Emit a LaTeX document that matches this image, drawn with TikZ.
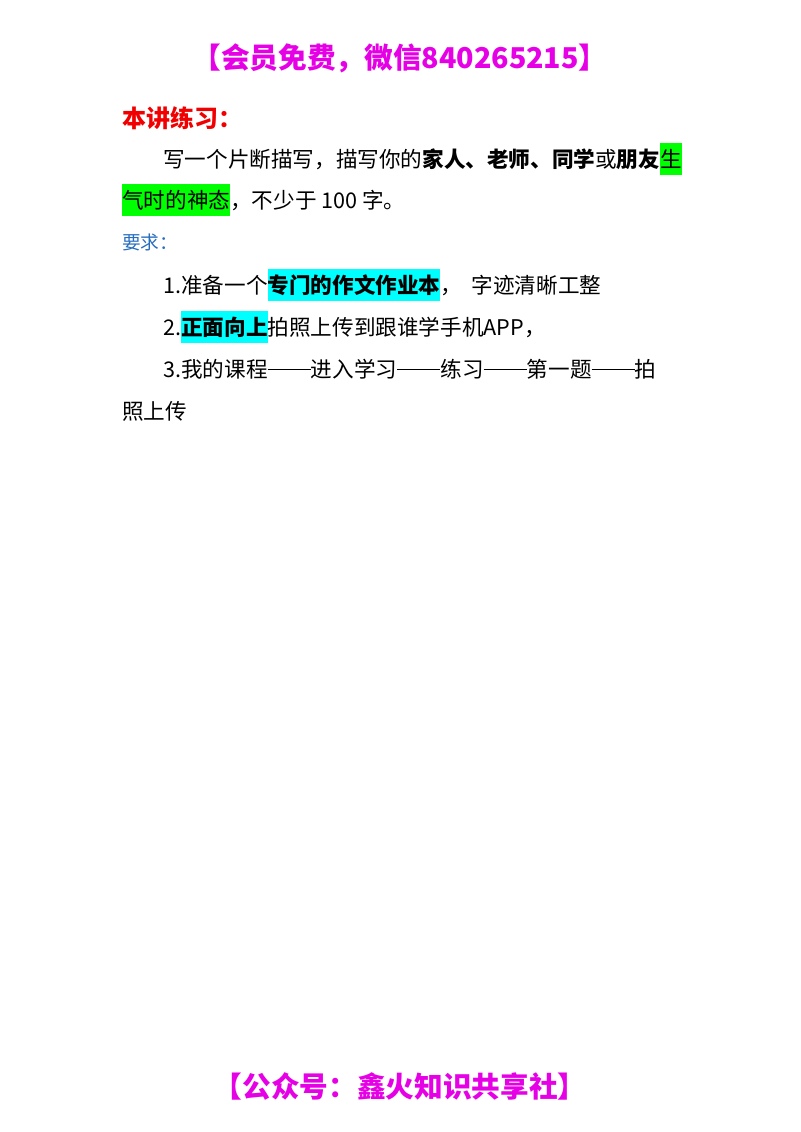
\documentclass[tikz,border=0pt]{standalone}
\usepackage{fontspec}
\setmainfont{Noto Sans CJK SC}
\definecolor{mag}{RGB}{230,0,230}
\definecolor{rd}{RGB}{240,0,0}
\definecolor{bl}{RGB}{40,110,190}
\definecolor{hg}{RGB}{0,255,0}
\definecolor{hc}{RGB}{0,255,255}
\newcommand\hlx[2]{{\setlength{\fboxsep}{0pt}\colorbox{#1}{\rule[-6pt]{0pt}{24pt}#2}}}
\newcommand\dsh{\rule[0.32em]{2em}{0.6pt}}
\begin{document}
\begin{tikzpicture}[x=0.75pt,y=-0.75pt,
  body/.style={anchor=base west,inner sep=0pt,font=\fontsize{16.2pt}{20pt}\selectfont},
  head/.style={inner sep=0pt,text=mag,font=\fontsize{21.5pt}{26pt}\selectfont\bfseries}]
\useasboundingbox (0,0) rectangle (800,1132);
\node[head] (h) at (400,58) {【会员免费，微信840265215】};
\node[anchor=base west,inner sep=0pt,text=rd,font=\fontsize{18pt}{22pt}\selectfont\bfseries] (t) at (122,127) {本讲练习：};
\node[body] (l1) at (163,167) {写一个片断描写，描写你的\textbf{家人、老师、同学}或\textbf{朋友}\hlx{hg}{生}};
\node[body] (l2) at (122,208) {\hlx{hg}{气时的神态}，不少于 100 字。};
\node[body,text=bl,font=\fontsize{14pt}{18pt}\selectfont] (r) at (122,249) {要求：};
\node[body] (a1) at (163,293) {1.准备一个\hlx{hc}{\textbf{专门的作文作业本}}，\ \ 字迹清晰工整};
\node[body] (a2) at (163,335) {2.\hlx{hc}{\textbf{正面向上}}拍照上传到跟谁学手机APP，};
\node[body] (a3) at (163,377) {3.我的课程\dsh 进入学习\dsh 练习\dsh 第一题\dsh 拍};
\node[body] (a4) at (122,419) {照上传};
\node[head] (f) at (400,1086) {【公众号：鑫火知识共享社】};
\end{tikzpicture}
\end{document}
